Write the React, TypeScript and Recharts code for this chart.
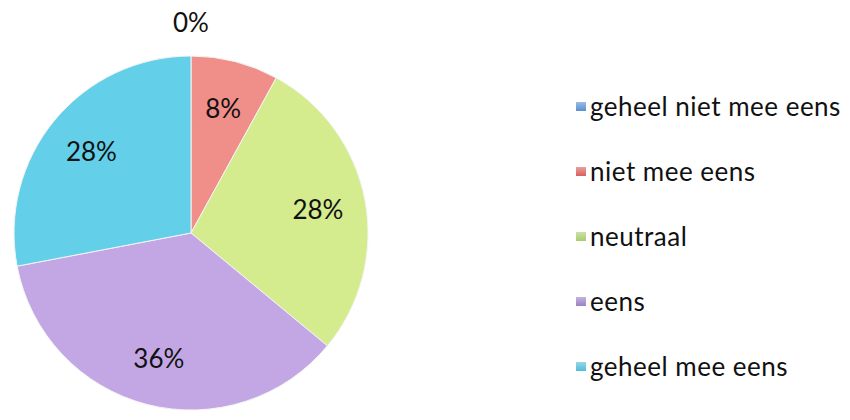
import { PieChart, Pie, Cell, Legend } from 'recharts';

const categories = ['geheel niet mee eens', 'niet mee eens', 'neutraal', 'eens', 'geheel mee eens'];
const percentages = [0, 8, 28, 36, 28];
const sliceColors = ['#7fa6db', '#f08f8a', '#d4ec8e', '#c3a7e5', '#63cfe9'];
const legendColors = ['#5a8fd0', '#d9605c', '#a9cc6e', '#9d80c6', '#52bcd8'];

const data = categories.map((name, i) => ({ name, value: percentages[i] }));

const RADIAN = Math.PI / 180;
const FONT = 'Lato, "Open Sans", sans-serif';

const renderLabel = (props: any) => {
  const { cx, cy, midAngle, outerRadius, value } = props;
  const r = value === 0 ? outerRadius + 34 : outerRadius * 0.73;
  const x = cx + r * Math.cos(-midAngle * RADIAN);
  const y = cy + r * Math.sin(-midAngle * RADIAN);
  return (
    <text
      x={x}
      y={y}
      fill="#111"
      fontSize={26}
      fontFamily={FONT}
      textAnchor="middle"
      dominantBaseline="central"
    >
      {`${value}%`}
    </text>
  );
};

const renderLegend = () => (
  <div style={{ fontFamily: FONT }}>
    {categories.map((name, i) => (
      <div key={name} style={{ display: 'flex', alignItems: 'center', height: 65 }}>
        <span
          style={{
            display: 'inline-block',
            width: 10,
            height: 9,
            marginRight: 4,
            marginTop: 2,
            background: `linear-gradient(${legendColors[i]}99, ${legendColors[i]})`,
          }}
        />
        <span style={{ fontSize: 26, letterSpacing: 0.5, color: '#111' }}>{name}</span>
      </div>
    ))}
  </div>
);

export default function App() {
  return (
    <div style={{ position: 'absolute', left: 0, top: 0, background: '#fff' }}>
      <PieChart width={850} height={420} margin={{ top: 0, right: 0, bottom: 0, left: 0 }}>
        <Pie
          data={data}
          dataKey="value"
          nameKey="name"
          cx={191}
          cy={233}
          outerRadius={177}
          startAngle={90}
          endAngle={-270}
          stroke="#f4f4f4"
          strokeWidth={1}
          label={renderLabel}
          labelLine={false}
          isAnimationActive={false}
        >
          {data.map((entry, i) => (
            <Cell key={entry.name} fill={sliceColors[i]} />
          ))}
        </Pie>
        <Legend
          layout="vertical"
          content={renderLegend}
          wrapperStyle={{ left: 576, top: 73, width: 274 }}
        />
      </PieChart>
    </div>
  );
}
